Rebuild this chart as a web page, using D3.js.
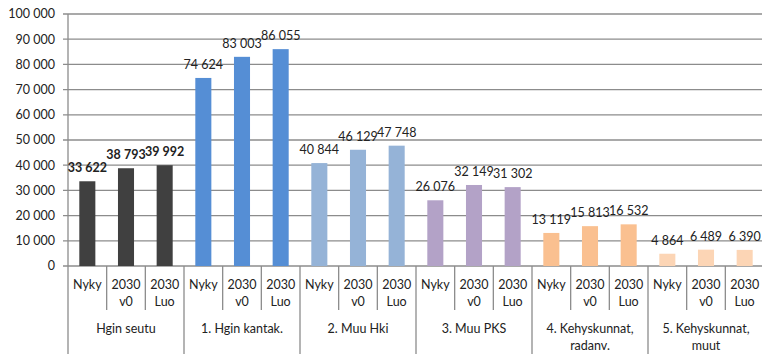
<!DOCTYPE html>
<html>
<head>
<meta charset="utf-8">
<script src="https://cdn.jsdelivr.net/npm/d3@7"></script>
<style>
  html, body { margin: 0; padding: 0; background: #fff; }
  svg { display: block; font-family: Lato, "Open Sans", sans-serif; }
</style>
</head>
<body>
<svg id="chart" width="762" height="354"></svg>
<script>
// Area groups (multi-line labels) and scenarios within each group
const groups = [
  ["Hgin seutu"],
  ["1. Hgin kantak."],
  ["2. Muu Hki"],
  ["3. Muu PKS"],
  ["4. Kehyskunnat,", "radanv."],
  ["5. Kehyskunnat,", "muut"]
];
const scenarios = [["Nyky"], ["2030", "v0"], ["2030", "Luo"]];

// Values per group, in scenario order
const seutuValues   = [33622, 38793, 39992];
const kantakValues  = [74624, 83003, 86055];
const muuHkiValues  = [40844, 46129, 47748];
const muuPksValues  = [26076, 32149, 31302];
const radanvValues  = [13119, 15813, 16532];
const muutValues    = [4864, 6489, 6390];
const values = [seutuValues, kantakValues, muuHkiValues, muuPksValues, radanvValues, muutValues];

const yTickValues = [0, 10000, 20000, 30000, 40000, 50000, 60000, 70000, 80000, 90000, 100000];

// Styling per group
const groupColors = ["#404040", "#558ed5", "#95b3d7", "#b3a2c7", "#fac090", "#fcd5b5"];
const boldGroup = 0;

const svg = d3.select("#chart");
const fi = d3.formatLocale({ decimal: ",", thousands: "\u00a0", grouping: [3], currency: ["", "€"] });
const fmt = fi.format(",d");

const rows = [];
groups.forEach((g, gi) => {
  scenarios.forEach((s, si) => {
    rows.push({ key: gi + "-" + si, gi, si, value: values[gi][si] });
  });
});

const plotLeft = 68, plotRight = 764, plotTop = 14, plotBase = 266;
const x = d3.scaleBand()
  .domain(rows.map(d => d.key))
  .range([plotLeft, plotRight])
  .paddingInner(0.585)
  .paddingOuter(0.2925);
const y = d3.scaleLinear().domain([0, 100000]).range([plotBase, plotTop]);
const step = x.step();

// Horizontal gridlines with short tick marks on the left
svg.append("g")
  .selectAll("line")
  .data(yTickValues)
  .join("line")
  .attr("x1", plotLeft - 5)
  .attr("x2", 762)
  .attr("y1", d => y(d))
  .attr("y2", d => y(d))
  .attr("stroke", "#8c8c8c")
  .attr("stroke-width", 1.3);

// Y axis labels
svg.append("g")
  .selectAll("text")
  .data(yTickValues)
  .join("text")
  .attr("x", 55)
  .attr("y", d => y(d))
  .attr("dy", "0.35em")
  .attr("text-anchor", "end")
  .attr("font-size", 12.5)
  .attr("fill", "#222")
  .text(d => fmt(d));

// Vertical axis line
svg.append("line")
  .attr("x1", plotLeft).attr("x2", plotLeft)
  .attr("y1", plotTop).attr("y2", 354)
  .attr("stroke", "#8c8c8c").attr("stroke-width", 1.3);

// Bars
svg.append("g")
  .selectAll("rect")
  .data(rows)
  .join("rect")
  .attr("x", d => x(d.key))
  .attr("width", x.bandwidth())
  .attr("y", d => y(d.value))
  .attr("height", d => y(0) - y(d.value))
  .attr("fill", d => groupColors[d.gi]);

// Value labels
svg.append("g")
  .selectAll("text")
  .data(rows)
  .join("text")
  .attr("x", d => x(d.key) + x.bandwidth() / 2)
  .attr("y", d => y(d.value) - 9)
  .attr("text-anchor", "middle")
  .attr("font-size", 12.5)
  .attr("font-weight", d => d.gi === boldGroup ? "bold" : "normal")
  .attr("fill", "#222")
  .text(d => fmt(d.value));

// Category axis: separators between scenarios and between groups
const sep = svg.append("g").attr("stroke", "#8c8c8c").attr("stroke-width", 1.3);
rows.forEach(d => {
  const xs = x(d.key) - (step - x.bandwidth()) / 2;
  if (d.si === 0) {
    if (d.gi > 0) sep.append("line").attr("x1", xs).attr("x2", xs).attr("y1", plotBase).attr("y2", 354);
  } else {
    sep.append("line").attr("x1", xs).attr("x2", xs).attr("y1", plotBase).attr("y2", 310);
  }
});

// Scenario labels
const scen = svg.append("g").attr("font-size", 12.5).attr("fill", "#222").attr("text-anchor", "middle");
rows.forEach(d => {
  const cx = x(d.key) + x.bandwidth() / 2;
  scenarios[d.si].forEach((line, li) => {
    scen.append("text")
      .attr("x", cx)
      .attr("y", 285 + li * 16.5)
      .attr("dy", "0.35em")
      .text(line);
  });
});

// Group labels
const grp = svg.append("g").attr("font-size", 12.5).attr("fill", "#222").attr("text-anchor", "middle");
groups.forEach((g, gi) => {
  const first = x(gi + "-0"), last = x(gi + "-2") + x.bandwidth();
  const cx = (first + last) / 2;
  g.forEach((line, li) => {
    grp.append("text")
      .attr("x", cx)
      .attr("y", 328.5 + li * 17.5)
      .attr("dy", "0.35em")
      .text(line);
  });
});
</script>
</body>
</html>
